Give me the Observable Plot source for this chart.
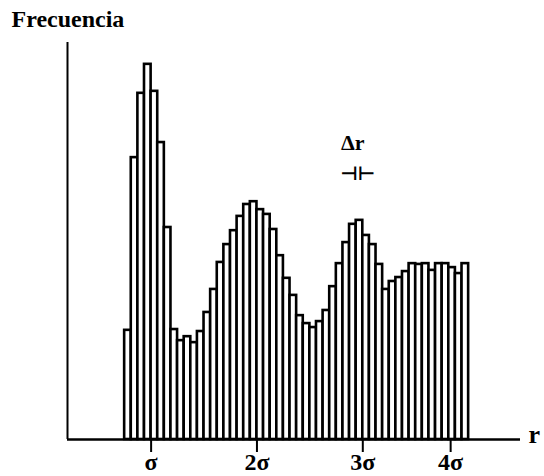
<!DOCTYPE html>
<html><head><meta charset="utf-8">
<script src="https://cdn.jsdelivr.net/npm/d3@7"></script>
<script src="https://cdn.jsdelivr.net/npm/@observablehq/plot@0.6"></script>
<style>body{margin:0;background:#fff}</style>
</head><body><div id="chart"></div>
<script>
// Histogram of pair distances r (in units of σ), bin width Δr = σ/16
const rStart = 0.75;   // left edge of first bin (σ)
const dr = 1 / 16;     // bin width Δr (σ)
const frequency = [
  27.5, 71.0, 87.2, 94.5, 87.7, 74.8, 53.4, 27.7, 24.9, 25.9,
  24.4, 27.2, 32.0, 37.8, 44.6, 49.1, 52.6, 56.2, 59.2, 59.9,
  57.9, 56.7, 52.9, 46.3, 40.6, 36.3, 31.2, 29.2, 28.2, 29.7,
  32.5, 38.5, 44.3, 49.6, 54.2, 55.2, 51.4, 49.1, 44.1, 37.8,
  39.8, 40.8, 42.3, 44.3, 44.1, 44.3, 42.6, 44.3, 44.3, 43.3,
  41.8, 44.3
];
const tickValues = [1, 2, 3, 3.83];
const tickLabels = ["σ", "2σ", "3σ", "4σ"];
const xDomain = [0.21, 4.49];

const bins = frequency.map((f, i) => ({r1: rStart + i * dr, r2: rStart + (i + 1) * dr, f}));
const serif = "'Liberation Serif', 'DejaVu Serif', serif";

const plot = Plot.plot({
  width: 544, height: 476,
  marginLeft: 67, marginRight: 24, marginTop: 42, marginBottom: 37,
  style: {background: "white", color: "black", fontFamily: serif},
  x: {domain: xDomain, axis: null},
  y: {domain: [0, 100], axis: null},
  marks: [
    Plot.rectY(bins, {x1: "r1", x2: "r2", y1: 0, y2: "f", fill: "white", stroke: "black", strokeWidth: 2.6}),
    Plot.ruleY([0], {stroke: "black", strokeWidth: 2.4}),
    Plot.ruleX([xDomain[0]], {stroke: "black", strokeWidth: 2}),
    Plot.axisX({
      ticks: tickValues,
      tickFormat: d => tickLabels[tickValues.indexOf(d)],
      tickSize: 13, tickPadding: 0, strokeWidth: 2,
      fontSize: 24, fontWeight: "bold", fontFamily: serif, fill: "black"
    }),
    Plot.text(["r"], {x: 4.62, y: 0, text: d => d, fontSize: 26, fontWeight: "bold", fontFamily: serif, lineAnchor: "bottom", dy: 3}),
    Plot.text(["Δr"], {x: 2.905, y: 72.8, text: d => d, fontSize: 22, fontWeight: "bold", fontFamily: serif, lineAnchor: "bottom"}),
    Plot.text(["⊣⊢"], {x: 2.95, y: 67.0, text: d => d, fontSize: 19, fontWeight: "bold", fontFamily: "'DejaVu Sans', sans-serif", lineAnchor: "middle", fill: "black"}),
    Plot.text(["Frecuencia"], {frameAnchor: "top-left", text: d => d, dx: -56, dy: -33, fontSize: 24, fontWeight: "bold", fontFamily: serif, textAnchor: "start", lineAnchor: "top"})
  ]
});
document.getElementById("chart").appendChild(plot);
</script>
</body></html>
